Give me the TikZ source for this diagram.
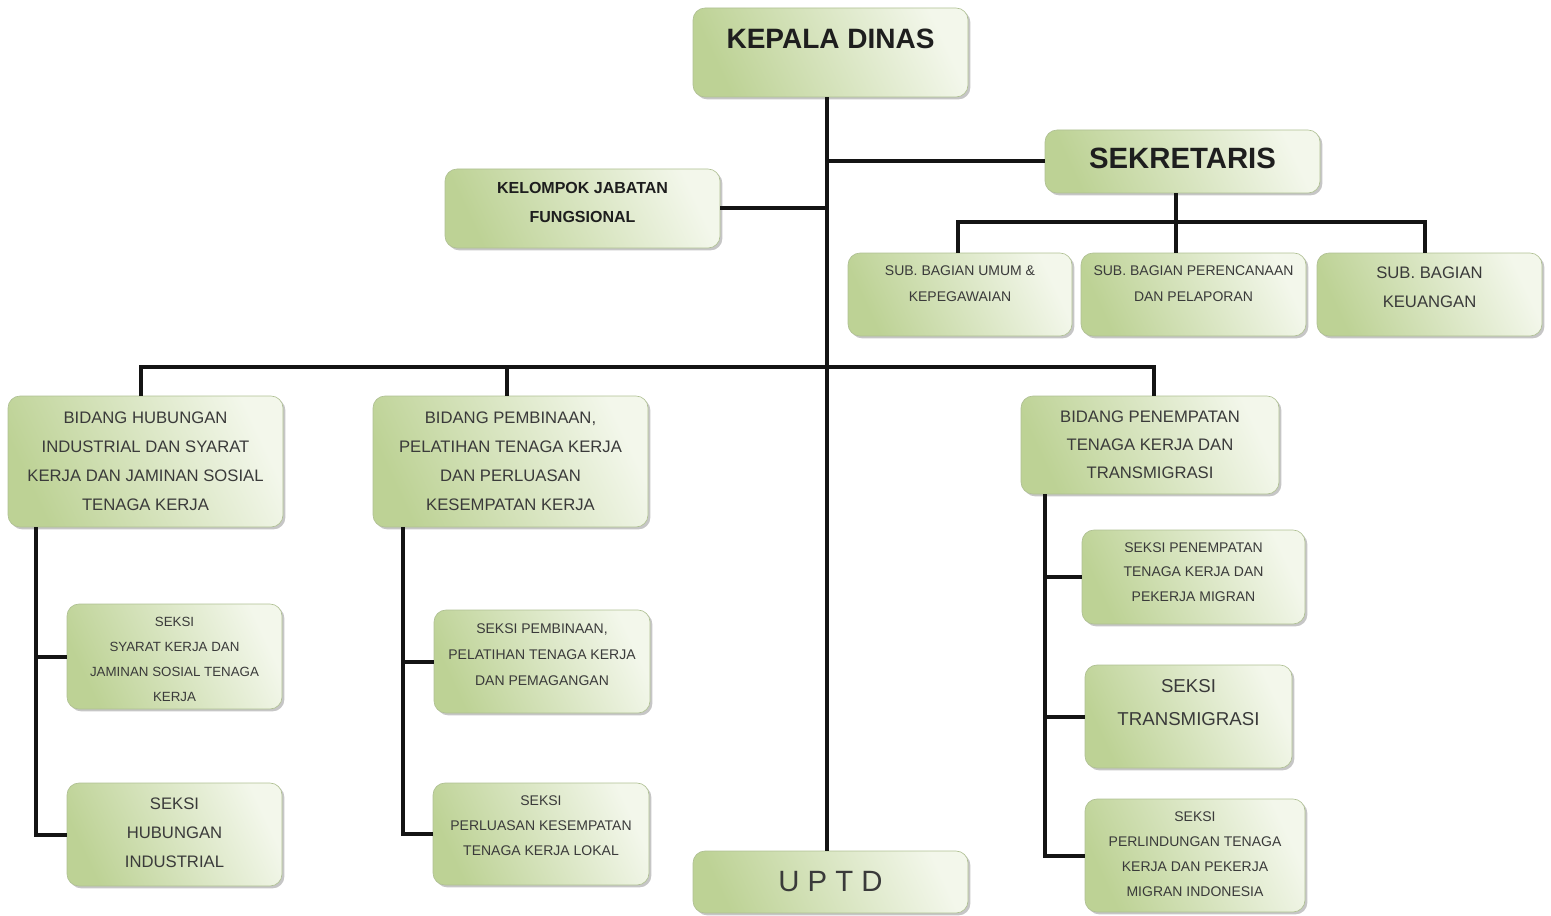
\documentclass[tikz,border=0pt]{standalone}
\usepackage{fontspec}
\setmainfont{Liberation Sans}
\usetikzlibrary{shadows}
\definecolor{gA}{HTML}{BDD295}
\definecolor{gB}{HTML}{F3F7EB}
\definecolor{bord}{HTML}{AFC093}
\definecolor{txt}{HTML}{3A3A3A}
\definecolor{txtb}{HTML}{1E1E1E}
\newdimen\px \px=0.75pt
\tikzset{
 box/.style={rounded corners=9pt, draw=bord, line width=0.5pt, left color=gA, right color=gB, shading angle=115,
   drop shadow={shadow xshift=1.8pt, shadow yshift=-1.8pt, fill=black!50, opacity=0.45}, inner sep=0pt},
 sz/.style 2 args={minimum width=#1\px, minimum height=#2\px},
 lbl/.style={align=center, text=txt, inner sep=0pt},
 fs/.style 2 args={font=\fontsize{#1}{#2}\selectfont},
 fsb/.style 2 args={font=\fontsize{#1}{#2}\selectfont\bfseries, text=txtb},
 conn/.style={line width=3pt, draw=black!92}
}
\begin{document}
\begin{tikzpicture}[x=0.75pt,y=-0.75pt]
\useasboundingbox (0,0) rectangle (1551,916);
% top level
\node[box,sz={275}{89}] (kd) at (830.5,52.5) {};
\node[lbl,fsb={21}{25}] (kdt) at ([yshift=14\px]kd.center) {KEPALA DINAS};
\node[box,sz={275}{63}] (sek) at (1182.5,161.5) {};
\node[lbl,fsb={22}{26}] (sekt) at ([yshift=3\px]sek.center) {SEKRETARIS};
\node[box,sz={275}{79}] (kjf) at (582.5,208.5) {};
\node[lbl,fsb={12}{21.75}] (kjft) at ([yshift=6\px]kjf.center) {KELOMPOK JABATAN\\FUNGSIONAL};
% sub bagian
\node[box,sz={224}{83}] (sb1) at (960,294.5) {};
\node[lbl,fs={10.5}{19.5}] (sb1t) at ([yshift=11\px]sb1.center) {SUB. BAGIAN UMUM \&\\KEPEGAWAIAN};
\node[box,sz={225}{83}] (sb2) at (1193.5,294.5) {};
\node[lbl,fs={10.5}{19.5}] (sb2t) at ([yshift=11\px]sb2.center) {SUB. BAGIAN PERENCANAAN\\DAN PELAPORAN};
\node[box,sz={225}{83}] (sb3) at (1429.5,294.5) {};
\node[lbl,fs={12.5}{21.75}] (sb3t) at ([yshift=7\px]sb3.center) {SUB. BAGIAN\\KEUANGAN};
% bidang
\node[box,sz={275}{131}] (bd1) at (145.5,461.5) {};
\node[lbl,fs={12.5}{21.75}] (bd1t) at (bd1.center) {BIDANG HUBUNGAN\\INDUSTRIAL DAN SYARAT\\KERJA DAN JAMINAN SOSIAL\\TENAGA KERJA};
\node[box,sz={275}{131}] (bd2) at (510.5,461.5) {};
\node[lbl,fs={12.5}{21.75}] (bd2t) at (bd2.center) {BIDANG PEMBINAAN,\\PELATIHAN TENAGA KERJA\\DAN PERLUASAN\\KESEMPATAN KERJA};
\node[box,sz={258}{98}] (bd3) at (1150,445) {};
\node[lbl,fs={12.5}{21}] (bd3t) at (bd3.center) {BIDANG PENEMPATAN\\TENAGA KERJA DAN\\TRANSMIGRASI};
% seksi
\node[box,sz={215}{105}] (s11) at (174.5,656.5) {};
\node[lbl,fs={10}{18.75}] (s11t) at ([yshift=-3\px]s11.center) {SEKSI\\SYARAT KERJA DAN\\JAMINAN SOSIAL TENAGA\\KERJA};
\node[box,sz={215}{103}] (s12) at (174.5,834.5) {};
\node[lbl,fs={12.5}{21.75}] (s12t) at ([yshift=2\px]s12.center) {SEKSI\\HUBUNGAN\\INDUSTRIAL};
\node[box,sz={216}{103}] (s21) at (542,661.5) {};
\node[lbl,fs={10.5}{19.5}] (s21t) at ([yshift=7\px]s21.center) {SEKSI PEMBINAAN,\\PELATIHAN TENAGA KERJA\\DAN PEMAGANGAN};
\node[box,sz={216}{102}] (s22) at (541,834) {};
\node[lbl,fs={10.5}{18.75}] (s22t) at ([yshift=8\px]s22.center) {SEKSI\\PERLUASAN KESEMPATAN\\TENAGA KERJA LOKAL};
\node[box,sz={275}{62}] (uptd) at (830.5,882) {};
\node[lbl,fs={22}{26}] (uptdt) at (uptd.center) {U P T D};
\node[box,sz={223}{94}] (s31) at (1193.5,577) {};
\node[lbl,fs={10.5}{18.4}] (s31t) at ([yshift=5\px]s31.center) {SEKSI PENEMPATAN\\TENAGA KERJA DAN\\PEKERJA MIGRAN};
\node[box,sz={207}{103}] (s32) at (1188.5,716.5) {};
\node[lbl,fs={14}{24.75}] (s32t) at ([yshift=14\px]s32.center) {SEKSI\\TRANSMIGRASI};
\node[box,sz={220}{113}] (s33) at (1195,855.5) {};
\node[lbl,fs={10.5}{18.75}] (s33t) at ([yshift=1\px]s33.center) {SEKSI\\PERLINDUNGAN TENAGA\\KERJA DAN PEKERJA\\MIGRAN INDONESIA};
% junctions
\coordinate (t1) at (827,367);
\coordinate (s1) at (1176,222);
\coordinate (l1) at (36,600);
\coordinate (m1) at (403,600);
\coordinate (r1) at (1045,600);
\coordinate (d1) at (141,367);
\coordinate (d2) at (507,367);
\coordinate (d3) at (1154,367);
\coordinate (e1) at (958,222);
\coordinate (e3) at (1425,222);
% connectors
\draw[conn] (kd.south -| t1) -- (uptd.north -| t1);
\draw[conn] (t1 |- sek.west) -- (sek.west);
\draw[conn] (kjf.east) -- (kjf.east -| t1);
\draw[conn] (sek.south -| s1) -- (s1 |- sb2.north);
\draw[conn] (sb1.north -| e1) |- (s1) -| (sb3.north -| e3);
\draw[conn] (bd1.north -| d1) |- (t1) -| (bd3.north -| d3);
\draw[conn] (bd2.north -| d2) -- (d2);
\draw[conn] (bd1.south -| l1) |- (s12.west);
\draw[conn] (l1 |- s11.west) -- (s11.west);
\draw[conn] (bd2.south -| m1) |- (s22.west);
\draw[conn] (m1 |- s21.west) -- (s21.west);
\draw[conn] (bd3.south -| r1) |- (s33.west);
\draw[conn] (r1 |- s31.west) -- (s31.west);
\draw[conn] (r1 |- s32.west) -- (s32.west);
\end{tikzpicture}
\end{document}
